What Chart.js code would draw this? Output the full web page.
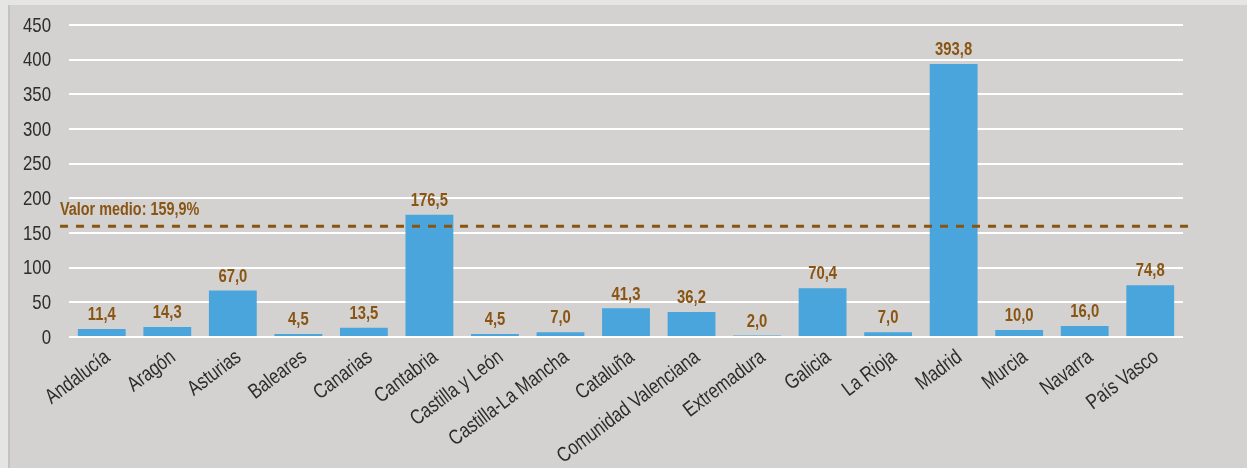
<!DOCTYPE html>
<html>
<head>
<meta charset="utf-8">
<script src="https://cdn.jsdelivr.net/npm/chart.js@4.4.1/dist/chart.umd.min.js"></script>
<style>
  html, body { margin: 0; padding: 0; background: #d3d2d1; }
  #wrap { width: 1247px; height: 468px; position: relative; }
</style>
</head>
<body>
<div id="wrap"><canvas id="c" width="1247" height="468"></canvas></div>
<script>
const categories = ["Andalucía", "Aragón", "Asturias", "Baleares", "Canarias", "Cantabria",
  "Castilla y León", "Castilla-La Mancha", "Cataluña", "Comunidad Valenciana", "Extremadura",
  "Galicia", "La Rioja", "Madrid", "Murcia", "Navarra", "País Vasco"];
const values = [11.4, 14.3, 67.0, 4.5, 13.5, 176.5, 4.5, 7.0, 41.3, 36.2, 2.0, 70.4, 7.0, 393.8, 10.0, 16.0, 74.8];
const averageValue = 159.9;
const averageLabel = "Valor medio: 159,9%";
const yTicks = [0, 50, 100, 150, 200, 250, 300, 350, 400, 450];

const FONT = "'Liberation Sans', Arimo, Arial, sans-serif";
const BROWN = "#8a5513";
const TEXT = "#2c2c2c";

function narrowText(ctx, text, x, y, opts) {
  ctx.save();
  ctx.translate(x, y);
  if (opts.rotate) ctx.rotate(opts.rotate);
  ctx.scale(opts.sx || 1, 1);
  ctx.font = opts.font;
  ctx.fillStyle = opts.color;
  ctx.textAlign = opts.align || 'left';
  ctx.textBaseline = opts.baseline || 'alphabetic';
  ctx.fillText(text, 0, 0);
  ctx.restore();
}

const bgPlugin = {
  id: 'bg',
  beforeDraw(chart) {
    const ctx = chart.ctx;
    ctx.save();
    ctx.fillStyle = '#d3d2d1';
    ctx.fillRect(0, 0, chart.width, chart.height);
    ctx.fillStyle = '#e5e5e4';
    ctx.fillRect(0, 0, chart.width, 5);
    ctx.fillRect(0, 0, 8, chart.height);
    ctx.fillStyle = '#c4c3c2';
    ctx.fillRect(8, 5, 2, chart.height);
    ctx.restore();
  }
};

const overlayPlugin = {
  id: 'overlay',
  afterDatasetsDraw(chart) {
    const ctx = chart.ctx;
    const y = chart.scales.y;
    const x = chart.scales.x;
    const meta = chart.getDatasetMeta(0);
    // y tick labels
    y.ticks.forEach(t => {
      narrowText(ctx, String(t.value), 51, y.getPixelForValue(t.value) + 1,
        { font: "21px " + FONT, color: TEXT, align: 'right', baseline: 'middle', sx: 0.8 });
    });
    // x category labels
    categories.forEach((c, i) => {
      const px = x.getPixelForValue(i);
      narrowText(ctx, c, px + 6, 355,
        { font: "21px " + FONT, color: TEXT, align: 'right', baseline: 'middle', sx: 0.8,
          rotate: -37 * Math.PI / 180 });
    });
    // data labels
    meta.data.forEach((bar, i) => {
      const v = values[i];
      narrowText(ctx, v.toFixed(1).replace('.', ','), bar.x, y.getPixelForValue(v) - 14,
        { font: "bold 19px " + FONT, color: BROWN, align: 'center', baseline: 'middle', sx: 0.78 });
    });
    // average line
    const ay = y.getPixelForValue(averageValue);
    ctx.save();
    ctx.strokeStyle = BROWN;
    ctx.lineWidth = 3;
    ctx.setLineDash([8, 8]);
    ctx.beginPath();
    ctx.moveTo(60, ay);
    ctx.lineTo(1188, ay);
    ctx.stroke();
    ctx.restore();
    narrowText(ctx, averageLabel, 60, ay - 11,
      { font: "bold 18px " + FONT, color: BROWN, align: 'left', baseline: 'alphabetic', sx: 0.8 });
  }
};

new Chart(document.getElementById('c'), {
  type: 'bar',
  data: {
    labels: categories,
    datasets: [{
      data: values,
      backgroundColor: '#4aa5dc',
      borderWidth: 0,
      barPercentage: 0.73,
      categoryPercentage: 1.0
    }]
  },
  options: {
    responsive: false,
    animation: false,
    devicePixelRatio: 1,
    layout: { padding: { left: 0, right: 64, top: 25, bottom: 0 } },
    plugins: { legend: { display: false }, tooltip: { enabled: false } },
    scales: {
      x: {
        grid: { display: false, drawTicks: false },
        border: { display: false },
        ticks: { display: false },
        afterFit(s) { s.height = 468 - 337; }
      },
      y: {
        min: 0,
        max: 450,
        afterBuildTicks(s) { s.ticks = yTicks.map(v => ({ value: v })); },
        grid: { color: '#ffffff', lineWidth: 2, drawTicks: false },
        border: { display: false },
        ticks: { display: false },
        afterFit(s) { s.width = 69; }
      }
    }
  },
  plugins: [bgPlugin, overlayPlugin]
});
</script>
</body>
</html>
